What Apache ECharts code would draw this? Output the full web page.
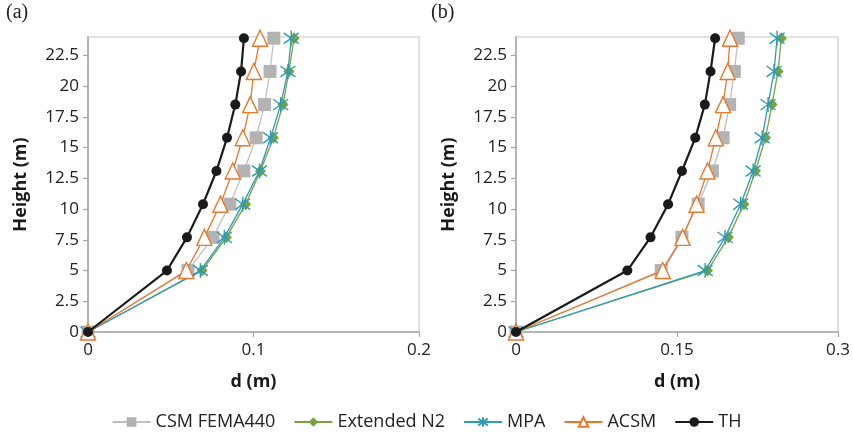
<!DOCTYPE html>
<html><head><meta charset="utf-8">
<script src="https://cdn.jsdelivr.net/npm/echarts@6/dist/echarts.min.js"></script>
<style>html,body{margin:0;padding:0;background:#fff}#c{width:853px;height:436px}</style>
</head><body><div id="c"></div>
<script>
const heights = [0, 5, 7.7, 10.4, 13.1, 15.8, 18.5, 21.2, 23.9];
const seriesNames = ['CSM FEMA440', 'Extended N2', 'MPA', 'ACSM', 'TH'];
// Panel (a)
const a_csm = [0, 0.0604, 0.0756, 0.0857, 0.0942, 0.1016, 0.1067, 0.1100, 0.1123];
const a_n2  = [0, 0.0689, 0.0836, 0.0952, 0.1042, 0.1120, 0.1178, 0.1214, 0.1245];
const a_mpa = [0, 0.0679, 0.0824, 0.0935, 0.1036, 0.1103, 0.1164, 0.1208, 0.1228];
const a_acsm= [0, 0.0594, 0.0703, 0.0800, 0.0875, 0.0935, 0.0980, 0.1002, 0.1040];
const a_th  = [0, 0.0477, 0.0598, 0.0695, 0.0776, 0.0840, 0.0890, 0.0925, 0.0942];
// Panel (b)
const b_csm = [0, 0.1352, 0.1546, 0.1697, 0.1830, 0.1929, 0.1990, 0.2034, 0.2070];
const b_n2  = [0, 0.1784, 0.1978, 0.2123, 0.2231, 0.2324, 0.2385, 0.2441, 0.2472];
const b_mpa = [0, 0.1762, 0.1947, 0.2093, 0.2209, 0.2293, 0.2348, 0.2404, 0.2432];
const b_acsm= [0, 0.1367, 0.1552, 0.1682, 0.1784, 0.1861, 0.1929, 0.1972, 0.1994];
const b_th  = [0, 0.1037, 0.1253, 0.1417, 0.1546, 0.1670, 0.1759, 0.1812, 0.1855];
const yTicks = [0, 2.5, 5, 7.5, 10, 12.5, 15, 17.5, 20, 22.5];
const xTicksA = [0, 0.1, 0.2];
const xTicksB = [0, 0.15, 0.3];

const FONT = 'Open Sans';
const axisGray = '#a6a6a6';
const styles = [
  {color:'#bfbfbf', mcolor:'#b3b3b3', symbol:'rect', size:13, lw:1.3},
  {color:'#7aa23f', mcolor:'#7aa23f', symbol:'diamond', size:[11,12], lw:1.3},
  {color:'#2e9cb7', mcolor:'#2e9cb7', symbol:'path://M0,-1L0,1M-0.72,-0.72L0.72,0.72M-0.72,0.72L0.72,-0.72', size:15, lw:1.3, stroke:true},
  {color:'#e8782b', mcolor:'#e8782b', symbol:'triangle', size:[15,16], lw:1.3, hollow:true},
  {color:'#1a1a1a', mcolor:'#1a1a1a', symbol:'circle', size:10, lw:2.2}
];
const dataA = [a_csm, a_n2, a_mpa, a_acsm, a_th];
const dataB = [b_csm, b_n2, b_mpa, b_acsm, b_th];

function mkSeries(vals, idx) {
  return vals.map((arr, i) => {
    const s = styles[i];
    let itemStyle;
    if (s.hollow) itemStyle = {color:'#fff', borderColor:s.mcolor, borderWidth:1.4};
    else if (s.stroke) itemStyle = {color:s.mcolor, borderColor:s.mcolor, borderWidth:1.4};
    else itemStyle = {color:s.mcolor, borderWidth:0};
    return {
      name: seriesNames[i], type:'line', xAxisIndex:idx, yAxisIndex:idx,
      data: arr.map((v,k)=>[v, heights[k]]),
      symbol: s.symbol, symbolSize: s.size, showAllSymbol:true,
      lineStyle:{color:s.color, width:s.lw},
      itemStyle: itemStyle, z: 2 + i,
      animation:false
    };
  });
}

function yAx(idx) {
  return {
    type:'value', gridIndex:idx, min:0, max:24,
    name:'Height (m)', nameLocation:'middle', nameGap:58, nameRotate:90,
    nameTextStyle:{fontFamily:FONT, fontWeight:'bold', fontSize:18, color:'#1a1a1a'},
    axisLine:{show:true, lineStyle:{color:axisGray, width:1.5}},
    axisTick:{show:true, length:5, lineStyle:{color:axisGray, width:1.2}, customValues: yTicks},
    axisLabel:{fontFamily:FONT, fontSize:17, color:'#222', margin:9, customValues: yTicks},
    splitLine:{show:false}
  };
}
function xAx(idx, ticks) {
  return {
    type:'value', gridIndex:idx, min:ticks[0], max:ticks[2], interval: ticks[1],
    name:'d (m)', nameLocation:'middle', nameGap:41,
    nameTextStyle:{fontFamily:FONT, fontWeight:'bold', fontSize:18, color:'#1a1a1a'},
    axisLine:{show:true, onZero:false, lineStyle:{color:axisGray, width:1.5}},
    axisTick:{show:true, length:5, lineStyle:{color:axisGray, width:1.2}},
    axisLabel:{fontFamily:FONT, fontSize:17, color:'#222', margin:10,
      formatter: v => String(v)},
    splitLine:{show:false}
  };
}

const chart = echarts.init(document.getElementById('c'), null, {renderer:'canvas'});
chart.setOption({
  backgroundColor:'#fff',
  animation:false,
  grid:[
    {left:88, right:434, top:37, bottom:104, show:true, borderColor:'#c8c8c8', borderWidth:1.2, containLabel:false},
    {left:516, right:13, top:37, bottom:104, show:true, borderColor:'#c8c8c8', borderWidth:1.2, containLabel:false}
  ],
  xAxis:[xAx(0, xTicksA), xAx(1, xTicksB)],
  yAxis:[yAx(0), yAx(1)],
  legend:{
    data: seriesNames, left:'center', bottom:0, itemWidth:38, itemHeight:12, itemGap:18,
    textStyle:{fontFamily:FONT, fontSize:18, color:'#222'}
  },
  graphic:[
    {type:'text', left:6, top:3, style:{text:'(a)', font:'20px "Liberation Serif"', fill:'#222'}},
    {type:'text', left:431, top:3, style:{text:'(b)', font:'20px "Liberation Serif"', fill:'#222'}}
  ],
  series: mkSeries(dataA, 0).concat(mkSeries(dataB, 1))
});
</script></body></html>
